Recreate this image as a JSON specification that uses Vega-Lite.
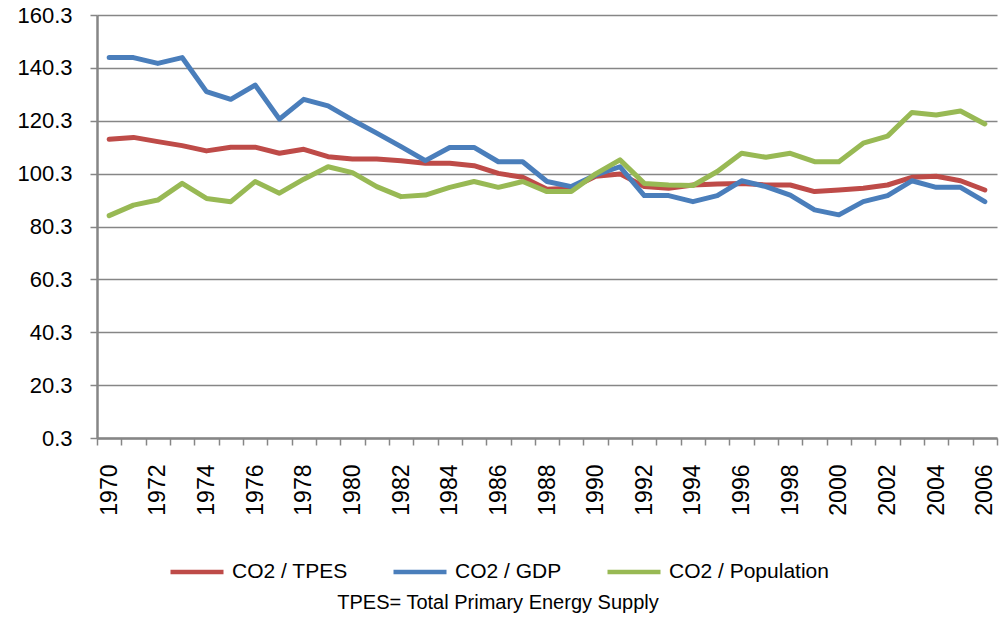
{
  "$schema": "https://vega.github.io/schema/vega-lite/v6.json",
  "autosize": {"type": "none"},
  "padding": {"left": 97, "top": 15, "right": 9, "bottom": 186},
  "width": 900,
  "height": 423,
  "background": "white",
  "data": {"values": [
    {"year":1970,"series":"CO2 / TPES","value":113.3},{"year":1971,"series":"CO2 / TPES","value":114.0},{"year":1972,"series":"CO2 / TPES","value":112.4},{"year":1973,"series":"CO2 / TPES","value":110.9},{"year":1974,"series":"CO2 / TPES","value":108.9},{"year":1975,"series":"CO2 / TPES","value":110.3},{"year":1976,"series":"CO2 / TPES","value":110.3},{"year":1977,"series":"CO2 / TPES","value":108.0},{"year":1978,"series":"CO2 / TPES","value":109.5},{"year":1979,"series":"CO2 / TPES","value":106.7},{"year":1980,"series":"CO2 / TPES","value":105.8},{"year":1981,"series":"CO2 / TPES","value":105.8},{"year":1982,"series":"CO2 / TPES","value":105.2},{"year":1983,"series":"CO2 / TPES","value":104.2},{"year":1984,"series":"CO2 / TPES","value":104.2},{"year":1985,"series":"CO2 / TPES","value":103.3},{"year":1986,"series":"CO2 / TPES","value":100.4},{"year":1987,"series":"CO2 / TPES","value":98.9},{"year":1988,"series":"CO2 / TPES","value":94.4},{"year":1989,"series":"CO2 / TPES","value":94.8},{"year":1990,"series":"CO2 / TPES","value":99.3},{"year":1991,"series":"CO2 / TPES","value":100.2},{"year":1992,"series":"CO2 / TPES","value":95.4},{"year":1993,"series":"CO2 / TPES","value":94.8},{"year":1994,"series":"CO2 / TPES","value":96.0},{"year":1995,"series":"CO2 / TPES","value":96.4},{"year":1996,"series":"CO2 / TPES","value":96.6},{"year":1997,"series":"CO2 / TPES","value":96.0},{"year":1998,"series":"CO2 / TPES","value":96.0},{"year":1999,"series":"CO2 / TPES","value":93.5},{"year":2000,"series":"CO2 / TPES","value":94.1},{"year":2001,"series":"CO2 / TPES","value":94.8},{"year":2002,"series":"CO2 / TPES","value":96.0},{"year":2003,"series":"CO2 / TPES","value":98.9},{"year":2004,"series":"CO2 / TPES","value":99.3},{"year":2005,"series":"CO2 / TPES","value":97.6},{"year":2006,"series":"CO2 / TPES","value":94.1},
    {"year":1970,"series":"CO2 / GDP","value":144.2},{"year":1971,"series":"CO2 / GDP","value":144.2},{"year":1972,"series":"CO2 / GDP","value":142.0},{"year":1973,"series":"CO2 / GDP","value":144.2},{"year":1974,"series":"CO2 / GDP","value":131.3},{"year":1975,"series":"CO2 / GDP","value":128.4},{"year":1976,"series":"CO2 / GDP","value":133.8},{"year":1977,"series":"CO2 / GDP","value":120.9},{"year":1978,"series":"CO2 / GDP","value":128.4},{"year":1979,"series":"CO2 / GDP","value":125.9},{"year":1980,"series":"CO2 / GDP","value":120.6},{"year":1981,"series":"CO2 / GDP","value":115.6},{"year":1982,"series":"CO2 / GDP","value":110.5},{"year":1983,"series":"CO2 / GDP","value":105.2},{"year":1984,"series":"CO2 / GDP","value":110.2},{"year":1985,"series":"CO2 / GDP","value":110.2},{"year":1986,"series":"CO2 / GDP","value":104.8},{"year":1987,"series":"CO2 / GDP","value":104.8},{"year":1988,"series":"CO2 / GDP","value":97.3},{"year":1989,"series":"CO2 / GDP","value":95.4},{"year":1990,"series":"CO2 / GDP","value":99.8},{"year":1991,"series":"CO2 / GDP","value":102.9},{"year":1992,"series":"CO2 / GDP","value":92.0},{"year":1993,"series":"CO2 / GDP","value":92.0},{"year":1994,"series":"CO2 / GDP","value":89.7},{"year":1995,"series":"CO2 / GDP","value":92.0},{"year":1996,"series":"CO2 / GDP","value":97.6},{"year":1997,"series":"CO2 / GDP","value":95.4},{"year":1998,"series":"CO2 / GDP","value":92.2},{"year":1999,"series":"CO2 / GDP","value":86.6},{"year":2000,"series":"CO2 / GDP","value":84.7},{"year":2001,"series":"CO2 / GDP","value":89.7},{"year":2002,"series":"CO2 / GDP","value":92.0},{"year":2003,"series":"CO2 / GDP","value":97.6},{"year":2004,"series":"CO2 / GDP","value":95.1},{"year":2005,"series":"CO2 / GDP","value":95.1},{"year":2006,"series":"CO2 / GDP","value":89.7},
    {"year":1970,"series":"CO2 / Population","value":84.4},{"year":1971,"series":"CO2 / Population","value":88.4},{"year":1972,"series":"CO2 / Population","value":90.3},{"year":1973,"series":"CO2 / Population","value":96.6},{"year":1974,"series":"CO2 / Population","value":90.9},{"year":1975,"series":"CO2 / Population","value":89.7},{"year":1976,"series":"CO2 / Population","value":97.3},{"year":1977,"series":"CO2 / Population","value":92.9},{"year":1978,"series":"CO2 / Population","value":98.2},{"year":1979,"series":"CO2 / Population","value":102.9},{"year":1980,"series":"CO2 / Population","value":100.7},{"year":1981,"series":"CO2 / Population","value":95.4},{"year":1982,"series":"CO2 / Population","value":91.6},{"year":1983,"series":"CO2 / Population","value":92.2},{"year":1984,"series":"CO2 / Population","value":95.1},{"year":1985,"series":"CO2 / Population","value":97.3},{"year":1986,"series":"CO2 / Population","value":95.1},{"year":1987,"series":"CO2 / Population","value":97.3},{"year":1988,"series":"CO2 / Population","value":93.5},{"year":1989,"series":"CO2 / Population","value":93.5},{"year":1990,"series":"CO2 / Population","value":100.2},{"year":1991,"series":"CO2 / Population","value":105.5},{"year":1992,"series":"CO2 / Population","value":96.6},{"year":1993,"series":"CO2 / Population","value":96.0},{"year":1994,"series":"CO2 / Population","value":95.8},{"year":1995,"series":"CO2 / Population","value":101.1},{"year":1996,"series":"CO2 / Population","value":108.0},{"year":1997,"series":"CO2 / Population","value":106.5},{"year":1998,"series":"CO2 / Population","value":108.0},{"year":1999,"series":"CO2 / Population","value":104.8},{"year":2000,"series":"CO2 / Population","value":104.8},{"year":2001,"series":"CO2 / Population","value":111.8},{"year":2002,"series":"CO2 / Population","value":114.5},{"year":2003,"series":"CO2 / Population","value":123.4},{"year":2004,"series":"CO2 / Population","value":122.5},{"year":2005,"series":"CO2 / Population","value":124.0},{"year":2006,"series":"CO2 / Population","value":119.1}
  ]},
  "mark": {"type": "line", "strokeWidth": 5, "strokeJoin": "round", "strokeCap": "round"},
  "encoding": {
    "x": {
      "field": "year", "type": "ordinal",
      "scale": {"type": "band", "paddingInner": 0, "paddingOuter": 0},
      "axis": {
        "title": null, "labelAngle": -90, "labelAlign": "right", "labelBaseline": "middle",
        "labelExpr": "datum.value % 2 == 0 ? datum.label : ''",
        "labelOverlap": false,
        "labelFont": "Liberation Sans", "labelFontSize": 23, "labelColor": "#000000",
        "labelPadding": 19, "tickBand": "extent", "tickSize": 7, "tickColor": "#868686", "tickWidth": 1.5,
        "domainColor": "#868686", "domainWidth": 2.5, "grid": false
      }
    },
    "y": {
      "field": "value", "type": "quantitative",
      "scale": {"domain": [0.3, 160.3], "nice": false, "zero": false},
      "axis": {
        "title": null, "values": [0.3, 20.3, 40.3, 60.3, 80.3, 100.3, 120.3, 140.3, 160.3],
        "format": ".1f", "labelFont": "Liberation Sans", "labelFontSize": 22, "labelColor": "#000000",
        "labelPadding": 18, "tickSize": 7, "tickColor": "#868686", "tickWidth": 1.5,
        "domainColor": "#868686", "domainWidth": 2.5,
        "grid": true, "gridColor": "#868686", "gridWidth": 1.5
      }
    },
    "color": {
      "field": "series", "type": "nominal",
      "scale": {"domain": ["CO2 / TPES", "CO2 / GDP", "CO2 / Population"], "range": ["#BE4B48", "#4A7EBB", "#98B954"]},
      "legend": {
        "title": "TPES= Total Primary Energy Supply",
        "orient": "none", "legendX": 71, "legendY": 528,
        "direction": "horizontal",
        "titleOrient": "bottom", "titleAnchor": "middle", "titlePadding": 11, "titleLimit": 0,
        "titleFont": "Liberation Sans", "titleFontSize": 20, "titleFontWeight": "normal", "titleColor": "#000000",
        "labelFont": "Liberation Sans", "labelFontSize": 21, "labelColor": "#000000", "labelOffset": 6, "labelLimit": 0,
        "symbolType": "stroke", "symbolSize": 2809, "symbolStrokeWidth": 4.5,
        "columnPadding": 36, "padding": 0
      }
    },
    "order": {"field": "year", "type": "quantitative"}
  },
  "config": {"view": {"stroke": null}}
}
